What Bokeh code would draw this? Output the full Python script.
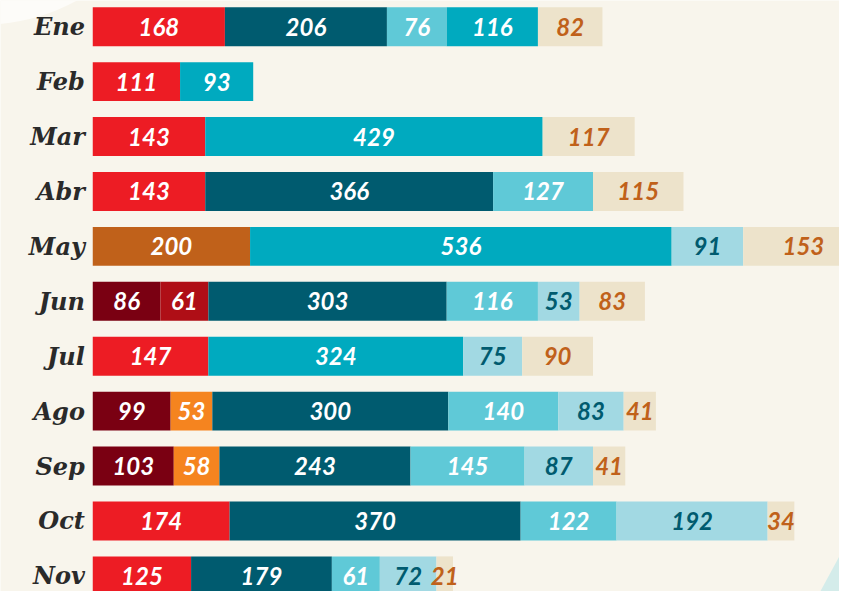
from bokeh.plotting import figure
from bokeh.models import ColumnDataSource, Range1d
from bokeh.core.properties import value
from bokeh.embed import file_html
from bokeh.resources import INLINE

# ---- data ----
months = ["Ene", "Feb", "Mar", "Abr", "May", "Jun", "Jul", "Ago", "Sep", "Oct", "Nov"]
series = ["maroon", "darkred", "red", "brown", "orange", "darkteal", "lightteal", "cyan", "verylight", "beige"]

maroon    = [0,   0,   0,   0,   0,   86,  0,   99,  103, 0,   0]
darkred   = [0,   0,   0,   0,   0,   61,  0,   0,   0,   0,   0]
red       = [168, 111, 143, 143, 0,   0,   147, 0,   0,   174, 125]
brown     = [0,   0,   0,   0,   200, 0,   0,   0,   0,   0,   0]
orange    = [0,   0,   0,   0,   0,   0,   0,   53,  58,  0,   0]
darkteal  = [206, 0,   0,   366, 0,   303, 0,   300, 243, 370, 179]
lightteal = [76,  0,   0,   127, 0,   116, 0,   140, 145, 122, 61]
cyan      = [116, 93,  429, 0,   536, 0,   324, 0,   0,   0,   0]
verylight = [0,   0,   0,   0,   91,  53,  75,  83,  87,  192, 72]
beige     = [82,  0,   117, 115, 153, 83,  90,  41,  41,  34,  21]

values = dict(maroon=maroon, darkred=darkred, red=red, brown=brown, orange=orange,
              darkteal=darkteal, lightteal=lightteal, cyan=cyan,
              verylight=verylight, beige=beige)

fill = dict(maroon="#7A0012", darkred="#AF0E16", red="#ED1C24", brown="#C0611A",
            orange="#F5841F", darkteal="#005B6F", lightteal="#5FC9D7",
            cyan="#00AABF", verylight="#A2D9E3", beige="#EDE3CB")
label_color = {k: "#FFFFFF" for k in series}
label_color["verylight"] = "#005B6F"
label_color["beige"] = "#C0611A"

BG = "#F8F5EC"

ypos = list(range(len(months)))
data = dict(y=ypos)
data.update(values)
source = ColumnDataSource(data)

p = figure(width=839, height=591, output_backend="svg", toolbar_location=None,
           x_range=Range1d(-117.3, 949.4), y_range=Range1d(10.285, -0.478),
           min_border=0)
p.background_fill_color = BG
p.border_fill_color = BG
p.outline_line_color = None
p.grid.visible = False
p.axis.visible = False

# decorative shapes in corners
p.ellipse(x=[-142.2], y=[-3.67], width=[511], height=[7.27],
          fill_color="#FDFCF9", line_color=None)
p.patch(x=[920.6, 960, 960], y=[10.4, 9.36, 10.4],
        fill_color="#D4ECEA", line_color=None)

p.hbar_stack(series, y="y", height=0.709, source=source,
             color=[fill[s] for s in series], line_color=None)

# segment labels
lx, ly, lt, lc = [], [], [], []
for i in range(len(months)):
    cum = 0
    for s in series:
        v = values[s][i]
        if v > 0:
            lx.append(cum + v / 2)
            ly.append(i)
            lt.append(str(v))
            lc.append(label_color[s])
        cum += v
p.text(x=lx, y=ly, text=lt, text_color=lc, text_align="center",
       text_baseline="middle", text_font=value("Lato"),
       text_font_style="bold italic", text_font_size="24px")

# month labels
p.text(x=[-10] * len(months), y=ypos, text=months, text_color="#2A2A2A",
       text_align="right", text_baseline="middle",
       text_font=value("DejaVu Serif"), text_font_style="bold italic",
       text_font_size="24px")

open("out.html", "w").write(file_html(p, INLINE))
